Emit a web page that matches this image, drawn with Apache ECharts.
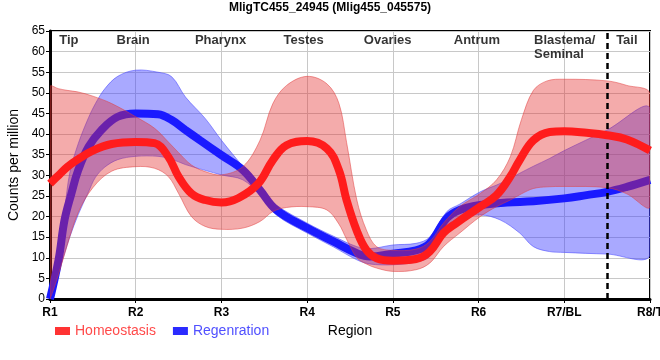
<!DOCTYPE html>
<html><head><meta charset="utf-8">
<script src="https://cdn.jsdelivr.net/npm/echarts@6/dist/echarts.min.js"></script>
<style>html,body{margin:0;padding:0;background:#fff}#c{width:660px;height:360px}</style>
</head><body><div id="c"></div>
<script>
const TITLE = 'MligTC455_24945 (Mlig455_045575)';
const X_TICKS = ['R1','R2','R3','R4','R5','R6','R7/BL','R8/T'];
const REGIONS = ['Tip','Brain','Pharynx','Testes','Ovaries','Antrum','Blastema/\nSeminal','Tail'];
const REGION_POS = [1.22, 1.97, 2.99, 3.96, 4.94, 5.98, 6.647, 7.73];
const DIVIDER_X = 7.5;

// Homeostasis mean curve [region position, counts]
const HOMEO_LINE = [[1,28],[1.1,30],[1.2,32],[1.33,33.9],[1.5,36],[1.72,37.6],[2,38.1],[2.22,37.8],[2.38,34.5],[2.5,29.7],[2.65,25.6],[2.81,24],[3,23.4],[3.2,24.5],[3.43,28],[3.6,33.7],[3.76,37.3],[4,38.3],[4.23,36.5],[4.37,31.3],[4.46,24],[4.58,16.5],[4.69,11.9],[4.81,9.9],[5,9.3],[5.27,9.7],[5.43,11.5],[5.59,16],[5.74,18.4],[6.02,22.4],[6.21,25.2],[6.37,29.7],[6.48,33.7],[6.64,38.5],[6.83,40.5],[7,40.7],[7.26,40.3],[7.5,39.7],[7.73,38.7],[8,36]];
// Regeneration mean curve
const REGEN_LINE = [[1,0],[1.1,9.5],[1.17,19.2],[1.25,25.6],[1.33,31.3],[1.45,36.9],[1.6,41],[1.79,44.2],[2,45],[2.26,44.8],[2.42,43.4],[2.58,41],[2.75,38.5],[3,34.9],[3.25,31.3],[3.45,26.4],[3.64,21.6],[4,17.2],[4.31,13.9],[4.58,11.1],[4.73,10.3],[5,11],[5.27,11.8],[5.43,13.5],[5.63,19.6],[5.78,21.6],[6.02,22.8],[6.33,23.4],[6.64,23.7],[7,24.4],[7.26,25.2],[7.5,26],[7.73,27.2],[8,28.9]];

// Homeostasis band
const HOMEO_BAND_X    = [1,1.1,1.2,1.33,1.5,1.72,2,2.22,2.38,2.5,2.65,2.81,3,3.25,3.45,3.6,3.76,4,4.23,4.37,4.46,4.58,4.69,4.81,5,5.27,5.43,5.59,5.78,6.02,6.21,6.37,6.5,6.64,6.8,7,7.5,7.73,8];
const HOMEO_BAND_LOW  = [0,6,13,21,27,31,32.1,31.7,29.7,25.6,20,17.6,16.9,17.2,18.8,21.2,22.2,22.4,21.6,18.2,14.5,10,8.5,7.5,6.7,7.1,8.7,12.7,16,20,22.4,24,25.5,26.8,27.2,27.3,27,25.5,22.4];
const HOMEO_BAND_HIGH = [51.5,51,50.6,50.2,49.2,47.4,44.2,41.4,38.1,35.5,32.5,30.9,30.1,32.1,38.5,47.4,51.8,54,52.2,47.5,38,24,16.8,12.7,11.8,12.1,13.9,18.4,22.4,25.6,28.9,34.5,43.5,50.6,52.9,53.3,52.9,51.8,49.8];

// Regeneration band
const REGEN_BAND_X    = [1,1.1,1.17,1.23,1.33,1.45,1.53,1.64,1.79,2,2.26,2.42,2.58,2.81,3,3.25,3.45,3.64,4,4.31,4.58,4.73,5,5.27,5.43,5.63,5.78,6.02,6.25,6.48,6.64,6.83,7,7.5,8];
const REGEN_BAND_LOW  = [0,6.5,11,15,20.5,26,29.5,32,33.8,34.6,34.6,33.9,32.6,31.2,30.1,28.9,25.2,20.4,16,12.6,9.5,8.5,8.3,9,10.3,17.6,19.6,20.4,19.2,16,12.7,11.5,11.3,10.9,10.7];
const REGEN_BAND_HIGH = [1,11.5,21.5,30.5,37.7,44,47.4,51,54,55.5,55,53.9,49,43.8,38.5,32.1,26.8,22.8,18.4,15.2,12.7,12.2,13.1,13.5,15,21.2,23,26,28,30.5,32.2,34.1,36,41,46.2];

const FONT = 'Liberation Sans, Arial, sans-serif';

function bandSeries(id, xs, low, high, fill, edge, z) {
  return {
    type: 'custom', name: id, silent: true, z: z, clip: true,
    data: xs.map((x, i) => [x, low[i], high[i]]),
    encode: { x: 0, y: [1, 2] },
    renderItem: function (params, api) {
      if (params.dataIndex !== 0) return null;
      const cs = params.coordSys;
      const up = xs.map((x, i) => api.coord([x, high[i]]));
      const lo = xs.map((x, i) => api.coord([x, low[i]])).reverse();
      return {
        type: 'polygon',
        shape: { points: up.concat(lo), smooth: 0.35,
          smoothConstraint: [[cs.x, cs.y], [cs.x + cs.width, cs.y + cs.height]] },
        style: { fill: fill, stroke: edge, lineWidth: 1 }
      };
    }
  };
}

const chart = echarts.init(document.getElementById('c'), null, { renderer: 'canvas' });
chart.setOption({
  animation: false,
  backgroundColor: '#fff',
  title: { text: TITLE, left: 'center', top: 0, padding: [2, 5],
    textStyle: { fontFamily: FONT, fontSize: 12, fontWeight: 'bold', color: '#000' } },
  legend: {
    left: 50, top: 319, icon: 'rect', itemWidth: 15, itemHeight: 8, itemGap: 17,
    data: [
      { name: 'Homeostasis', textStyle: { color: '#ff4a4a' } },
      { name: 'Regenration', textStyle: { color: '#5050ff' } }
    ],
    textStyle: { fontFamily: FONT, fontSize: 14 }
  },
  grid: { left: 50, right: 10, top: 31, bottom: 61, show: true, borderColor: '#000', borderWidth: 2,
    containLabel: false, outerBoundsMode: 'none' },
  xAxis: {
    type: 'value', min: 1, max: 8, interval: 1,
    name: 'Region', nameLocation: 'middle', nameGap: 25,
    nameTextStyle: { fontFamily: FONT, fontSize: 14, color: '#000' },
    axisLine: { show: true, lineStyle: { color: '#000', width: 3 } },
    axisTick: { show: true, length: 4, lineStyle: { color: '#000', width: 1 } },
    axisLabel: { fontFamily: FONT, fontSize: 12, fontWeight: 'bold', color: '#000', margin: 8,
      formatter: v => X_TICKS[Math.round(v) - 1] || '' },
    splitLine: { show: true, lineStyle: { color: '#c8c8c8', width: 1 } }
  },
  yAxis: {
    type: 'value', min: 0, max: 65, interval: 5,
    name: 'Counts per million', nameLocation: 'middle', nameGap: 23,
    nameTextStyle: { fontFamily: FONT, fontSize: 14, color: '#000' },
    axisLine: { show: true, lineStyle: { color: '#000', width: 3 } },
    axisTick: { show: true, length: 4, lineStyle: { color: '#000', width: 1 } },
    axisLabel: { fontFamily: FONT, fontSize: 12, color: '#000', margin: 5 },
    splitLine: { show: true, lineStyle: { color: '#c8c8c8', width: 1 } }
  },
  series: [
    bandSeries('regenBand', REGEN_BAND_X, REGEN_BAND_LOW, REGEN_BAND_HIGH, 'rgba(60,60,255,0.44)', 'rgba(70,70,255,0.55)', 2),
    { type: 'line', name: 'Regenration', data: REGEN_LINE, smooth: 0.4, symbol: 'none', z: 3,
      itemStyle: { color: '#2b2bff' }, lineStyle: { color: '#1a1aff', width: 8 } },
    bandSeries('homeoBand', HOMEO_BAND_X, HOMEO_BAND_LOW, HOMEO_BAND_HIGH, 'rgba(228,45,45,0.4)', 'rgba(225,60,60,0.5)', 4),
    { type: 'line', name: 'Homeostasis', data: HOMEO_LINE, smooth: 0.4, symbol: 'none', z: 5,
      itemStyle: { color: '#ff3333' }, lineStyle: { color: '#ff1c1c', width: 8 },
      markLine: { silent: true, symbol: 'none', label: { show: false },
        lineStyle: { color: '#000', width: 2.5, type: [6, 4] },
        data: [{ xAxis: DIVIDER_X }] } },
    { type: 'scatter', name: 'regions', symbolSize: 0, silent: true, z: 6,
      data: REGIONS.map((r, i) => ({ name: r, value: [REGION_POS[i], 64.4],
        label: { align: r.indexOf('\n') >= 0 ? 'left' : 'center' } })),
      label: { show: true, position: 'inside', verticalAlign: 'top', formatter: p => p.name,
        fontFamily: FONT, fontSize: 13, fontWeight: 'bold', color: '#000', lineHeight: 14 } }
  ]
});
</script>
</body></html>
